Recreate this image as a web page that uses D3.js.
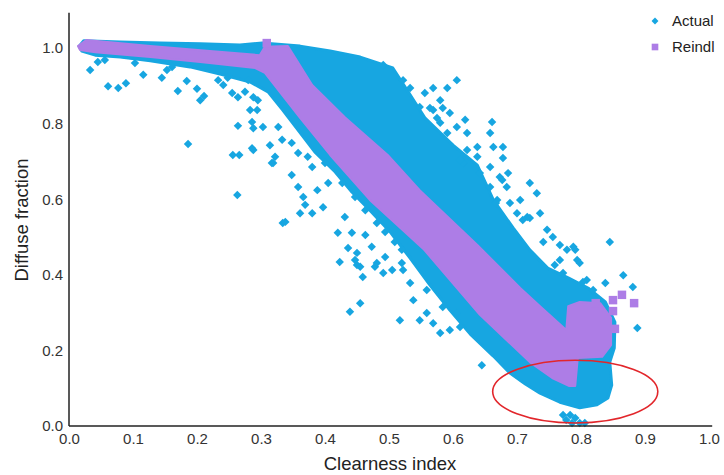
<!DOCTYPE html>
<html><head><meta charset="utf-8">
<script src="https://cdn.jsdelivr.net/npm/d3@7"></script>
<style>body{margin:0;background:#fff}svg{display:block}text{font-family:"Liberation Sans",Arial,sans-serif}</style>
</head><body>
<svg id="chart" width="724" height="475"></svg>
<script>
// ---- data (clearness index, diffuse fraction) ----
const xTicks = [0,0.1,0.2,0.3,0.4,0.5,0.6,0.7,0.8,0.9,1.0];
const yTicks = [0,0.2,0.4,0.6,0.8,1.0];
const seriesNames = ["Actual","Reindl"];

// dense core of the "Actual" cloud (outline of overlapping markers)
const actualCloud = [[0.016,1.005],[0.023,1.019],[0.080,1.016],[0.142,1.013],[0.205,1.011],[0.267,1.008],[0.302,1.013],[0.361,1.005],[0.408,0.992],[0.455,0.976],[0.506,0.947],[0.533,0.876],[0.556,0.815],[0.600,0.743],[0.638,0.690],[0.663,0.598],[0.694,0.524],[0.720,0.466],[0.748,0.418],[0.780,0.392],[0.811,0.365],[0.838,0.328],[0.853,0.275],[0.852,0.206],[0.845,0.169],[0.848,0.108],[0.842,0.074],[0.825,0.056],[0.798,0.048],[0.767,0.063],[0.736,0.087],[0.713,0.111],[0.689,0.140],[0.663,0.185],[0.627,0.243],[0.595,0.307],[0.564,0.373],[0.533,0.444],[0.502,0.513],[0.470,0.571],[0.442,0.619],[0.416,0.672],[0.384,0.725],[0.358,0.783],[0.334,0.836],[0.311,0.884],[0.283,0.910],[0.236,0.931],[0.189,0.950],[0.127,0.966],[0.080,0.976],[0.041,0.981],[0.020,0.992]];

// scattered "Actual" observations
const actualPoints = [
[0.033,0.942],[0.045,0.963],[0.061,0.899],[0.077,0.894],[0.089,0.907],[0.116,0.929],[0.145,0.921],[0.153,0.942],[0.161,0.950],[0.170,0.886],[0.184,0.913],[0.200,0.892],[0.205,0.862],[0.211,0.873],[0.186,0.746],[0.233,0.915],[0.241,0.902],[0.255,0.881],[0.264,0.870],[0.275,0.884],[0.264,0.794],[0.283,0.836],[0.286,0.804],[0.256,0.717],[0.266,0.717],[0.288,0.730],[0.317,0.696],[0.334,0.537],[0.263,0.611],[0.288,0.788],[0.056,0.968],[0.103,0.960],[0.248,0.921],[0.295,0.862],
[0.280,0.915],[0.288,0.870],[0.294,0.836],[0.303,0.791],[0.314,0.743],[0.286,0.735],[0.327,0.791],[0.333,0.757],[0.348,0.749],[0.322,0.712],[0.358,0.722],[0.373,0.712],[0.319,0.696],[0.348,0.664],[0.358,0.632],[0.366,0.606],[0.369,0.585],[0.338,0.540],[0.361,0.563],[0.380,0.563],[0.397,0.579],[0.420,0.511],[0.431,0.553],[0.442,0.511],[0.463,0.505],[0.436,0.471],[0.423,0.434],[0.447,0.439],[0.473,0.474],[0.455,0.421],[0.478,0.421],[0.494,0.447],[0.505,0.413],[0.520,0.431],[0.388,0.624],[0.405,0.643],[0.380,0.685],[0.400,0.696],[0.427,0.643],[0.447,0.606],[0.463,0.571],[0.481,0.537],[0.494,0.513],[0.509,0.487],[0.520,0.466],
[0.450,0.458],[0.450,0.426],[0.439,0.302],[0.455,0.325],[0.459,0.394],[0.481,0.431],[0.491,0.405],[0.517,0.280],[0.538,0.333],[0.548,0.280],[0.559,0.299],[0.569,0.272],[0.580,0.246],[0.595,0.254],[0.584,0.315],[0.606,0.299],[0.611,0.262],[0.645,0.161],[0.533,0.378],[0.559,0.360],[0.522,0.413],
[0.606,0.915],[0.591,0.894],[0.569,0.894],[0.556,0.881],[0.580,0.862],[0.522,0.915],[0.533,0.894],[0.619,0.810],[0.661,0.804],[0.658,0.775],[0.663,0.738],[0.678,0.738],[0.678,0.709],[0.720,0.643],[0.731,0.616],[0.705,0.598],[0.638,0.738],[0.622,0.775],[0.638,0.712],[0.595,0.828],[0.606,0.791],[0.591,0.775],[0.548,0.844],[0.569,0.836],[0.580,0.802],[0.616,0.696],[0.658,0.685],[0.673,0.659],[0.684,0.632],[0.658,0.632],[0.669,0.598],[0.689,0.590],[0.700,0.563],[0.716,0.553],[0.736,0.563],[0.747,0.519],[0.686,0.669],[0.677,0.651],[0.709,0.545],[0.720,0.550],[0.756,0.500],[0.741,0.487],[0.767,0.479],[0.845,0.487],
[0.491,0.955],[0.564,0.841],[0.584,0.841],[0.575,0.815],[0.622,0.730],[0.611,0.704],[0.642,0.669],[0.667,0.590],[0.778,0.466],[0.794,0.439],
[0.767,0.439],[0.788,0.474],[0.809,0.386],[0.838,0.378],[0.866,0.399],[0.881,0.368],[0.888,0.259],[0.772,0.405],[0.803,0.381],[0.819,0.360],[0.759,0.426],[0.798,0.431],[0.791,0.466],
[0.772,0.029],[0.783,0.029],[0.791,0.021],[0.777,0.016],[0.798,0.008],[0.806,0.008],[0.786,0.008]
];

// dense band of the "Reindl" model estimates
const reindlBand = [[0.014,1.005],[0.027,1.021],[0.127,1.005],[0.220,0.992],[0.298,0.981],[0.306,1.003],[0.342,1.005],[0.380,0.902],[0.431,0.817],[0.498,0.717],[0.548,0.624],[0.638,0.479],[0.705,0.365],[0.736,0.317],[0.777,0.254],[0.780,0.317],[0.798,0.328],[0.830,0.325],[0.847,0.286],[0.847,0.214],[0.833,0.183],[0.795,0.180],[0.791,0.106],[0.781,0.106],[0.755,0.127],[0.720,0.169],[0.642,0.294],[0.555,0.466],[0.470,0.598],[0.408,0.717],[0.361,0.815],[0.306,0.934],[0.291,0.947],[0.205,0.963],[0.127,0.976],[0.041,0.989],[0.017,0.995]];

// isolated "Reindl" estimates
const reindlPoints = [[0.309,1.013],[0.823,0.325],[0.850,0.333],[0.864,0.347],[0.883,0.325],[0.850,0.304],[0.853,0.257]];

// highlighted region (centre x, centre y, radius x, radius y)
const highlight = [0.791,0.091,0.129,0.083];

// ---- drawing ----
const blue = "#17a6e1", purple = "#ad7de6";
const svg = d3.select("#chart");
const x = d3.scaleLinear().domain([0,1]).range([69,709]);
const y = d3.scaleLinear().domain([0,1]).range([426,48]);
const g = svg.append("g");

const line = d3.line().x(d=>x(d[0])).y(d=>y(d[1])).curve(d3.curveLinearClosed);
const diamond = d3.symbol().type(d3.symbolSquare).size(36);
const square = d3.symbol().type(d3.symbolSquare).size(72);

g.append("path").datum(actualCloud).attr("d",line).attr("fill",blue).attr("stroke",blue).attr("stroke-width",3).attr("stroke-linejoin","round");
g.selectAll(".act").data(actualPoints).join("path").attr("class","act")
  .attr("d",diamond).attr("fill",blue)
  .attr("transform",d=>`translate(${x(d[0])},${y(d[1])}) rotate(45)`);

g.append("path").datum(reindlBand).attr("d",line).attr("fill",purple).attr("stroke",purple).attr("stroke-width",2).attr("stroke-linejoin","round");
g.selectAll(".rei").data(reindlPoints).join("path").attr("class","rei")
  .attr("d",square).attr("fill",purple)
  .attr("transform",d=>`translate(${x(d[0])},${y(d[1])})`);

// axes
const xAxis = d3.axisBottom(x).tickValues(xTicks).tickSize(0).tickPadding(7).tickFormat(d3.format(".1f"));
const yAxis = d3.axisLeft(y).tickValues(yTicks).tickSize(0).tickPadding(6).tickFormat(d3.format(".1f"));
const gx = svg.append("g").attr("transform","translate(0,426)").call(xAxis);
const gy = svg.append("g").attr("transform","translate(69,0)").call(yAxis);
[gx,gy].forEach(a=>{a.select(".domain").remove();a.selectAll("text").attr("fill","#333").style("font-size","15px").style("font-family",'"Liberation Sans",Arial,sans-serif');});
svg.append("line").attr("x1",x(0)).attr("x2",x(1.005)).attr("y1",y(0)).attr("y2",y(0)).attr("stroke","#222").attr("stroke-width",1.5);
svg.append("line").attr("x1",x(0)).attr("x2",x(0)).attr("y1",y(0)).attr("y2",y(1.093)).attr("stroke","#222").attr("stroke-width",1.5);

svg.append("text").attr("x",390).attr("y",470).attr("text-anchor","middle").attr("fill","#222").style("font-size","18.5px").text("Clearness index");
svg.append("text").attr("transform","translate(28,220) rotate(-90)").attr("text-anchor","middle").attr("fill","#222").style("font-size","18.5px").text("Diffuse fraction");

// highlight ellipse
svg.append("ellipse").attr("cx",x(highlight[0])).attr("cy",y(highlight[1]))
  .attr("rx",x(highlight[2])-x(0)).attr("ry",y(0)-y(highlight[3]))
  .attr("fill","none").attr("stroke","#e2262b").attr("stroke-width",1.6);

// legend
const lg = svg.append("g").attr("transform","translate(655,0)");
lg.append("path").attr("d",d3.symbol().type(d3.symbolSquare).size(24)()).attr("transform","translate(0,21) rotate(45)").attr("fill",blue);
lg.append("path").attr("d",d3.symbol().type(d3.symbolSquare).size(44)()).attr("transform","translate(0,47)").attr("fill",purple);
lg.selectAll(".lt").data(seriesNames).join("text").attr("class","lt").attr("x",17).attr("y",(d,i)=>26+i*26).attr("fill","#222").style("font-size","15px").text(d=>d);
</script>
</body></html>
